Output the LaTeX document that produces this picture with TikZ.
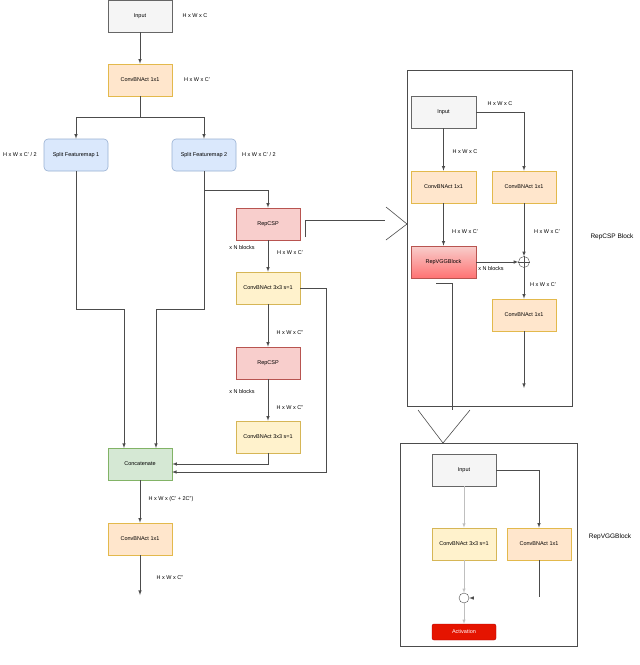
\documentclass[tikz,border=0pt]{standalone}
\usepackage{fontspec}
\setmainfont{Liberation Sans}
\definecolor{bluf}{HTML}{DAE8FC}\definecolor{blud}{HTML}{6C8EBF}
\definecolor{orf}{HTML}{FFE6CC}\definecolor{ord}{HTML}{D79B00}
\definecolor{yef}{HTML}{FFF2CC}\definecolor{yed}{HTML}{D6B656}
\definecolor{ref}{HTML}{F8CECC}\definecolor{red2}{HTML}{B85450}
\definecolor{grf}{HTML}{D5E8D4}\definecolor{grd}{HTML}{82B366}
\definecolor{gyf}{HTML}{F5F5F5}\definecolor{gyd}{HTML}{666666}
\definecolor{actf}{HTML}{E51400}\definecolor{actd}{HTML}{B20000}
\begin{document}
\begin{tikzpicture}[x=1pt,y=-1pt,
  every node/.style={font=\fontsize{5.5}{6.5}\selectfont},
  box/.style={draw,minimum width=64pt,minimum height=32pt,inner sep=1pt,line width=0.6pt},
  gray box/.style={box,fill=gyf,draw=gyd},
  org/.style={box,fill=orf,draw=ord!70},
  yel/.style={box,fill=yef,draw=yed},
  redb/.style={box,fill=ref,draw=red2},
  blu/.style={box,fill=bluf,draw=blud!70,rounded corners=4pt},
  grn/.style={box,fill=grf,draw=grd},
  lbl/.style={font=\fontsize{5.5}{6.5}\selectfont},
  ln/.style={draw=black!70,line width=0.6pt},
  ar/.style={ln,-latex}]
\useasboundingbox (0,0) rectangle (640,665);
% main column
\node[gray box] (in) at (140,16) {Input};
\node[lbl] at (195,16) {H x W x C};
\node[org] (c1) at (140,80) {ConvBNAct 1x1};
\node[lbl] at (197,80) {H x W x C'};
\node[blu] (s1) at (76,155) {Split Featuremap 1};
\node[lbl] at (20,155) {H x W x C' / 2};
\node[blu] (s2) at (204,155) {Split Featuremap 2};
\node[lbl] at (259,155) {H x W x C' / 2};
\node[redb] (r1) at (268,224) {RepCSP};
\node[lbl] at (242,248) {x N blocks};
\node[lbl] at (290,253) {H x W x C'};
\node[yel] (k1) at (268,288) {ConvBNAct 3x3 s=1};
\node[lbl] at (290,333) {H x W x C''};
\node[redb] (r2) at (268,363) {RepCSP};
\node[lbl] at (242,392) {x N blocks};
\node[lbl] at (290,408) {H x W x C''};
\node[yel] (k2) at (268,437) {ConvBNAct 3x3 s=1};
\node[grn] (cat) at (140,464) {Concatenate};
\node[lbl] at (171,499) {H x W x (C' + 2C'')};
\node[org] (c2) at (140,539) {ConvBNAct 1x1};
\node[lbl] at (170,578) {H x W x C''};
\coordinate (out) at (140,595);
\draw[ar] (in) -- (c1);
\draw[ar] (c1.south) -- (140,117) -| (s1.north);
\draw[ar] (c1.south) -- (140,117) -| (s2.north);
\draw[ar] (s2.south) -- (204,190) -| (r1.north);
\draw[ar] (r1) -- (k1);
\draw[ar] (k1) -- (r2);
\draw[ar] (r2) -- (k2);
\draw[ar] (s1.south) -- (76,309) -| (124,448);
\draw[ar] (s2.south) -- (204,309) -| (156,448);
\draw[ar] (k2.south) -- (268,464) -- (cat.east);
\draw[ar] (k1.east) -- (326,288) -- (326,472) -- (172,472);
\draw[ar] (cat) -- (c2);
\draw[ar] (c2) -- (out);
% link to RepCSP block
\draw[ln] (305,237) -- (305,220) -- (385,220);
\draw[ln] (386,207) -- (407,224) -- (386,240);
% RepCSP block
\node[draw=black!70,line width=0.6pt,minimum width=165pt,minimum height=336pt] (B1) at (489.5,238) {};
\node[lbl,font=\fontsize{6.5}{7.5}\selectfont] at (612,237) {RepCSP Block};
\node[gray box,minimum width=65pt] (bi) at (443.5,112) {Input};
\node[lbl] at (500,104) {H x W x C};
\node[org,minimum width=65pt] (bl) at (443.5,187) {ConvBNAct 1x1};
\node[lbl] at (465,152) {H x W x C};
\node[org] (br) at (524,187) {ConvBNAct 1x1};
\node[box,draw=red2,top color=ref,bottom color=red!55!white,minimum width=65pt] (rv) at (443.5,262) {RepVGGBlock};
\node[lbl] at (465,232) {H x W x C'};
\node[draw=black!70,circle,minimum size=11pt,inner sep=0pt] (op) at (524,262) {};
\draw[black!70] (op.north) -- (op.south) (op.west) -- (op.east);
\node[lbl] at (491,269) {x N blocks};
\node[lbl] at (547,232) {H x W x C'};
\node[org] (bo) at (524,315) {ConvBNAct 1x1};
\node[lbl] at (543,285) {H x W x C'};
\coordinate (bend) at (524,388);
\draw[ar] (bi) -- (bl);
\draw[ar] (bi.east) -- (524,112) -- (br.north);
\draw[ar] (bl) -- (rv);
\draw[ar] (rv) -- (op);
\draw[ar] (br) -- (op);
\draw[ar] (op) -- (bo);
\draw[ar] (bo) -- (bend);
% link to RepVGG block
\draw[ln] (436,283) -- (452,283) -- (452,410);
\draw[ln] (418,410) -- (443,443) -- (470,410);
% RepVGG block
\node[draw=black!70,line width=0.6pt,minimum width=177pt,minimum height=203pt] (B2) at (488.5,544.5) {};
\node[lbl,font=\fontsize{6.5}{7.5}\selectfont] at (610,537) {RepVGGBlock};
\node[gray box] (vi) at (464,470) {Input};
\node[yel] (v3) at (464,544) {ConvBNAct 3x3 s=1};
\node[org] (v1) at (539,544) {ConvBNAct 1x1};
\node[draw=black!70,circle,minimum size=10pt,inner sep=0pt] (vc) at (464,598) {};
\node[fill=actf,draw=actd,rounded corners=2pt,minimum width=64pt,minimum height=16pt,text=white] (act) at (464,632) {Activation};
\draw[draw=black!25,line width=0.5pt,-latex] (vi) -- (v3);
\draw[draw=black!25,line width=0.5pt,-latex] (v3) -- (vc);
\draw[draw=black!25,line width=0.5pt,-latex] (vc) -- (act);
\draw[ar] (vi.east) -- (539,470) -- (v1.north);
\coordinate (v1e) at (539,597);
\draw[ln] (v1) -- (v1e);
\coordinate (vcs) at (473,598);
\draw[ln,-latex] (vcs) -- (vc.east);
\end{tikzpicture}
\end{document}
